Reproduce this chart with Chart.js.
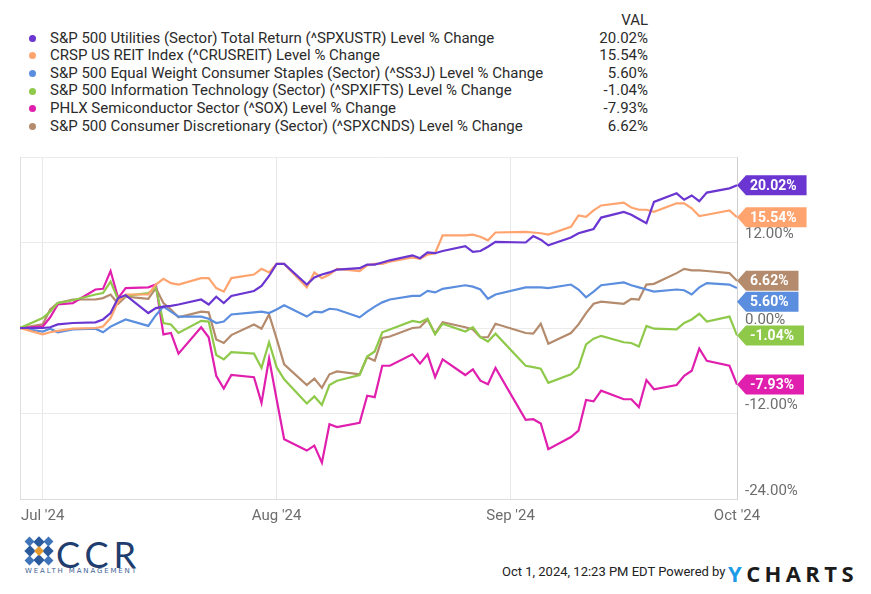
<!DOCTYPE html>
<html>
<head>
<meta charset="utf-8">
<script src="https://cdn.jsdelivr.net/npm/chart.js@4.4.1/dist/chart.umd.min.js"></script>
<style>
  html, body { margin: 0; padding: 0; background: #fff; }
  body { width: 871px; height: 594px; position: relative; overflow: hidden; font-family: Roboto, "Liberation Sans", sans-serif; }
  #legend { position: absolute; left: 0; top: 12px; width: 660px; font-size: 15px; color: #2b2b2b; }
  #legend .row { position: relative; height: 17.6px; line-height: 17.6px; }
  #legend .dot { position: absolute; left: 29px; top: 5.3px; width: 7px; height: 7px; border-radius: 50%; }
  #legend .name { position: absolute; left: 50px; white-space: nowrap; }
  #legend .val { position: absolute; right: 12px; white-space: nowrap; }
  #wrap { position: absolute; left: 0; top: 140px; width: 871px; height: 390px; }
  #stamp { position: absolute; left: 502px; top: 564px; font-size: 13px; color: #222; white-space: nowrap; }
  #ycharts { position: absolute; left: 728px; top: 558px; font-size: 22px; font-weight: 700; letter-spacing: 4.4px; color: #1b1b1b; font-family: "Open Sans", Roboto, sans-serif; }
  #ycharts span { color: #1c9be6; }
  #logo { position: absolute; left: 24px; top: 536px; width: 120px; height: 44px; }
  #ccr { position: absolute; left: 56px; top: 532px; font-size: 36px; color: #1f3d6e; font-family: Lato, "Open Sans", sans-serif; letter-spacing: 5px; }
  #wm { position: absolute; left: 25px; top: 567px; font-size: 7px; letter-spacing: 1.85px; color: #3d5f93; font-family: "DejaVu Sans", sans-serif; }
</style>
</head>
<body>
<div id="legend"></div>
<div id="wrap"><canvas id="chart" width="871" height="390"></canvas></div>

<svg id="logo" viewBox="0 0 120 44">
  <g transform="translate(15,15)">
    <rect x="-4" y="-13" width="8" height="8" fill="#2a5a9c" transform="rotate(45 0 -9)"/>
    <rect x="-4" y="5" width="8" height="8" fill="#2a5a9c" transform="rotate(45 0 9)"/>
    <rect x="-13" y="-4" width="8" height="8" fill="#2a5a9c" transform="rotate(45 -9 0)"/>
    <rect x="5" y="-4" width="8" height="8" fill="#2a5a9c" transform="rotate(45 9 0)"/>
    <rect x="-13" y="-13" width="7" height="7" fill="#3f74b8" transform="rotate(45 -9.5 -9.5)"/>
    <rect x="6" y="-13" width="7" height="7" fill="#3f74b8" transform="rotate(45 9.5 -9.5)"/>
    <rect x="-13" y="6" width="7" height="7" fill="#3f74b8" transform="rotate(45 -9.5 9.5)"/>
    <rect x="6" y="6" width="7" height="7" fill="#3f74b8" transform="rotate(45 9.5 9.5)"/>
    <rect x="-3.5" y="-3.5" width="7" height="7" fill="#e69a2e" transform="rotate(45 0 0)"/>
  </g>
</svg>
<div id="ccr">CCR</div>
<div id="wm">WEALTH MANAGEMENT</div>

<div id="stamp">Oct 1, 2024, 12:23 PM EDT Powered by</div>
<div id="ycharts"><span>Y</span>CHARTS</div>

<script>
// trading days, June 28 to Oct 1 2024
const dates = [
  '2024-06-28',
  '2024-07-01','2024-07-02','2024-07-03','2024-07-05',
  '2024-07-08','2024-07-09','2024-07-10','2024-07-11','2024-07-12',
  '2024-07-15','2024-07-16','2024-07-17','2024-07-18','2024-07-19',
  '2024-07-22','2024-07-23','2024-07-24','2024-07-25','2024-07-26',
  '2024-07-29','2024-07-30','2024-07-31','2024-08-01','2024-08-02',
  '2024-08-05','2024-08-06','2024-08-07','2024-08-08','2024-08-09',
  '2024-08-12','2024-08-13','2024-08-14','2024-08-15','2024-08-16',
  '2024-08-19','2024-08-20','2024-08-21','2024-08-22','2024-08-23',
  '2024-08-26','2024-08-27','2024-08-28','2024-08-29','2024-08-30',
  '2024-09-03','2024-09-04','2024-09-05','2024-09-06',
  '2024-09-09','2024-09-10','2024-09-11','2024-09-12','2024-09-13',
  '2024-09-16','2024-09-17','2024-09-18','2024-09-19','2024-09-20',
  '2024-09-23','2024-09-24','2024-09-25','2024-09-26','2024-09-27',
  '2024-09-30','2024-10-01'
];

const utilities = [
  0,
  0.0, 0.1, 0.5, 0.7,
  0.8, 1.2, 2.1, 4.2, 4.6,
  2.1, 2.8, 3.0, 3.1, 3.3,
  4.0, 3.3, 4.4, 3.5, 4.5,
  5.2, 5.9, 7.3, 9.0, 9.0,
  6.1, 7.1, 7.5, 7.8, 8.2,
  8.4, 8.9, 8.9, 9.2, 9.5,
  10.2, 9.8, 10.6, 10.5, 10.8,
  11.5, 10.7, 10.8, 11.4, 12.1,
  12.0, 12.9, 12.4, 11.6,
  12.7, 13.3, 13.6, 13.9, 15.5,
  16.3, 15.9, 15.3, 14.7, 17.7,
  18.9, 18.0, 18.6, 17.8, 19.0,
  19.6, 20.02
];

const reit = [
  0,
  -0.9, -0.6, -0.4, -0.1,
  0.0, 0.2, 1.4, 3.7, 4.7,
  4.7, 6.1, 6.9, 6.3, 6.1,
  7.0, 7.0, 5.6, 5.1, 7.0,
  7.5, 8.3, 7.8, 9.0, 9.0,
  5.7, 7.8, 7.0, 7.5, 8.3,
  8.0, 8.8, 9.0, 9.0, 9.3,
  9.9, 9.7, 10.3, 10.5, 13.0,
  13.0, 13.1, 12.8, 12.3, 13.4,
  13.5, 13.4, 13.3, 13.1,
  14.2, 15.8, 15.6, 16.5, 17.2,
  17.6, 16.9, 16.6, 16.6, 16.3,
  17.5, 17.5, 16.8, 15.7, 15.9,
  16.5, 15.54
];

const staples = [
  0,
  -0.5, -0.1, -0.6, -0.2,
  -0.1, -0.6, 0.2, 0.7, 1.2,
  0.3, 1.8, 3.0, 2.3, 1.6,
  1.6, 1.3, 0.7, 0.9, 1.9,
  2.2, 2.3, 2.1, 2.6, 3.2,
  1.6, 2.3, 2.2, 2.7, 2.6,
  1.5, 2.3, 3.0, 3.6, 4.0,
  4.5, 4.5, 5.2, 5.0, 5.5,
  6.0, 5.8, 5.4, 4.1, 4.7,
  5.7, 5.7, 5.7, 5.6,
  6.1, 5.4, 4.3, 5.1, 6.0,
  6.4, 6.0, 5.7, 5.4, 5.1,
  5.4, 5.3, 4.7, 5.7, 6.3,
  6.1, 5.60
];

const infoTech = [
  0,
  1.4, 2.3, 3.5, 3.9,
  4.7, 4.9, 6.5, 4.0, 4.5,
  4.9, 5.7, 0.7, 0.5, -0.7,
  1.0, 0.9, -3.8, -4.4, -3.4,
  -3.6, -5.6, -2.0, -5.5, -7.2,
  -10.6, -9.6, -10.8, -8.0, -7.4,
  -6.6, -4.0, -3.3, -0.6, -0.2,
  1.0, 0.8, 1.3, -0.9, 0.6,
  -0.5, 0.1, -1.3, -1.9, -0.8,
  -5.3, -5.5, -5.7, -7.7,
  -6.5, -5.5, -2.3, -1.5, -1.1,
  -2.0, -2.1, -2.6, 0.3, -0.1,
  -0.2, 0.7, 1.2, 2.0, 0.9,
  1.6, -1.04
];

const semis = [
  0,
  0.2, 1.5, 3.3, 3.5,
  5.4, 5.5, 8.0, 4.2, 5.6,
  5.7, 6.1, -0.9, -0.7, -3.6,
  0.1, -1.3, -6.7, -8.5, -6.6,
  -6.9, -10.5, -4.3, -10.0, -15.6,
  -17.2, -16.5, -18.9, -13.5, -13.9,
  -13.3, -9.5, -9.7, -5.3, -5.3,
  -3.7, -5.0, -3.7, -6.9, -4.4,
  -6.6, -5.8, -7.4, -7.9, -5.6,
  -12.9, -12.8, -13.4, -17.0,
  -15.3, -14.4, -10.1, -10.3, -8.8,
  -10.0, -10.0, -11.1, -7.3, -8.6,
  -8.0, -6.7, -6.0, -2.9, -4.6,
  -5.3, -7.93
];

const discretionary = [
  0,
  0.5, 2.6, 3.5, 4.0,
  4.0, 4.2, 4.7, 3.4, 4.4,
  4.1, 5.6, 3.5, 2.6, 1.5,
  2.3, 2.2, -1.6, -2.1, -1.0,
  0.5, -0.1, 1.9, -1.5, -5.1,
  -8.0, -7.1, -8.4, -6.5, -6.1,
  -6.5, -4.1, -4.6, -1.4, -1.2,
  0.0, 0.1, 1.2, -0.8, 0.8,
  0.1, -0.2, -1.3, -1.3, 0.6,
  -0.7, -0.8, 0.6, -2.2,
  -0.7, 0.5, 2.1, 3.4, 3.7,
  3.4, 4.1, 4.0, 6.1, 6.2,
  7.7, 8.3, 8.1, 8.1, 8.0,
  7.7, 6.62
];

const seriesNames = [
  'S&P 500 Utilities (Sector) Total Return (^SPXUSTR) Level % Change',
  'CRSP US REIT Index (^CRUSREIT) Level % Change',
  'S&P 500 Equal Weight Consumer Staples (Sector) (^SS3J) Level % Change',
  'S&P 500 Information Technology (Sector) (^SPXIFTS) Level % Change',
  'PHLX Semiconductor Sector (^SOX) Level % Change',
  'S&P 500 Consumer Discretionary (Sector) (^SPXCNDS) Level % Change'
];
const seriesValues = [utilities, reit, staples, infoTech, semis, discretionary];

const tickDates = ['2024-07-01', '2024-08-01', '2024-09-01', '2024-10-01'];
const tickLabels = ["Jul '24", "Aug '24", "Sep '24", "Oct '24"];

// styles
const colors = ['#6a35d0', '#ffa46e', '#5b8ede', '#8fc94a', '#e01fae', '#b48b6d'];

// days counted from Jul 1 2024
const origin = Date.UTC(2024, 6, 1);
function dayNum(s) {
  const [y, m, d] = s.split('-').map(Number);
  return (Date.UTC(y, m - 1, d) - origin) / 86400000;
}
const tickDays = tickDates.map(dayNum);

function pct(v) { return v.toFixed(2) + '%'; }

// legend
const legend = document.getElementById('legend');
let html = '<div class="row"><span class="val">VAL</span></div>';
seriesNames.forEach((name, i) => {
  const last = seriesValues[i][seriesValues[i].length - 1];
  html += '<div class="row"><span class="dot" style="background:' + colors[i] + '"></span>' +
    '<span class="name">' + name.replace(/&/g, '&amp;') + '</span>' +
    '<span class="val">' + pct(last) + '</span></div>';
});
legend.innerHTML = html;

// left edge line of the plot
const frameLine = {
  id: 'frameLine',
  beforeDatasetsDraw(chart) {
    const { ctx, chartArea } = chart;
    ctx.save();
    ctx.strokeStyle = '#dedede';
    ctx.lineWidth = 1;
    ctx.beginPath();
    ctx.moveTo(Math.round(chartArea.left) + 0.5, chartArea.top);
    ctx.lineTo(Math.round(chartArea.left) + 0.5, chartArea.bottom);
    ctx.stroke();
    ctx.restore();
  }
};

// end-of-line value tags on the right
const valueTags = {
  id: 'valueTags',
  afterDraw(chart) {
    const { ctx, chartArea, scales } = chart;
    const h = 20;
    const tags = chart.data.datasets.map(ds => {
      const v = ds.data[ds.data.length - 1].y;
      return { v, y: scales.y.getPixelForValue(v), color: ds.borderColor };
    }).sort((a, b) => a.y - b.y);
    for (let i = 1; i < tags.length; i++) {
      if (tags[i].y - tags[i - 1].y < h + 1) tags[i].y = tags[i - 1].y + h + 1;
    }
    ctx.save();
    ctx.font = 'bold 14px Roboto';
    ctx.textBaseline = 'middle';
    const x0 = chartArea.right;
    tags.forEach(t => {
      const txt = pct(t.v);
      const w = ctx.measureText(txt).width;
      const bx = x0 + 9;
      const ex = x0 + 13 + w + 10;
      ctx.fillStyle = t.color;
      ctx.beginPath();
      ctx.moveTo(x0, t.y);
      ctx.lineTo(bx, t.y - h / 2);
      ctx.lineTo(ex, t.y - h / 2);
      ctx.lineTo(ex, t.y + h / 2);
      ctx.lineTo(bx, t.y + h / 2);
      ctx.closePath();
      ctx.fill();
      ctx.fillStyle = '#fff';
      ctx.fillText(txt, x0 + 13, t.y + 1);
    });
    ctx.restore();
  }
};

new Chart(document.getElementById('chart'), {
  type: 'line',
  data: {
    datasets: seriesNames.map((name, i) => ({
      label: name,
      data: dates.map((d, j) => ({ x: dayNum(d), y: seriesValues[i][j] })),
      borderColor: colors[i],
      borderWidth: 2.2,
      pointRadius: 0,
      tension: 0
    }))
  },
  options: {
    responsive: false,
    animation: false,
    layout: { padding: { top: 14, left: 20, right: 0, bottom: 0 } },
    plugins: { legend: { display: false }, tooltip: { enabled: false } },
    scales: {
      x: {
        type: 'linear',
        min: dayNum(dates[0]),
        max: dayNum(dates[dates.length - 1]),
        afterBuildTicks: axis => { axis.ticks = tickDays.map(v => ({ value: v })); },
        afterFit: axis => { axis.height = 31; },
        ticks: {
          autoSkip: false,
          maxRotation: 0,
          padding: 8,
          color: '#6d6d6d',
          font: { family: 'Roboto', size: 15 },
          callback: (v, i) => tickLabels[i]
        },
        grid: { color: '#e8e8e8', drawTicks: false },
        border: { display: true, color: '#dcdcdc' }
      },
      y: {
        position: 'right',
        min: -24,
        max: 24,
        afterFit: axis => { axis.width = 134; },
        ticks: {
          stepSize: 12,
          padding: 8,
          labelOffset: -8,
          color: '#6d6d6d',
          font: { family: 'Roboto', size: 15 },
          callback: v => (v === 24 ? '' : pct(v))
        },
        grid: { color: '#ebebeb', drawTicks: false },
        border: { display: true, color: '#d0d0d0' }
      }
    }
  },
  plugins: [frameLine, valueTags]
});
</script>
</body>
</html>
